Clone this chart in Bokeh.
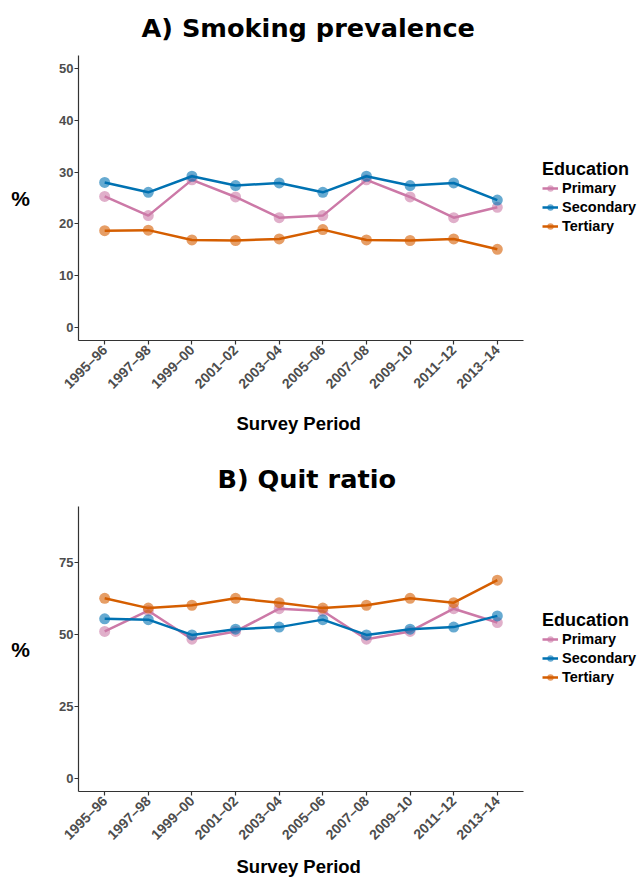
import math
from bokeh.plotting import figure
from bokeh.models import Range1d, FixedTicker, Legend, LegendItem, Title
from bokeh.layouts import column
from bokeh.embed import file_html
from bokeh.resources import INLINE

periods = ["1995–96", "1997–98", "1999–00", "2001–02", "2003–04",
           "2005–06", "2007–08", "2009–10", "2011–12", "2013–14"]
groups = ["Primary", "Secondary", "Tertiary"]
colors = ["#CC79A7", "#0072B2", "#D55E00"]

smoking_primary = [25.3, 21.6, 28.5, 25.2, 21.2, 21.6, 28.5, 25.2, 21.2, 23.2]
smoking_secondary = [28.0, 26.1, 29.2, 27.4, 27.9, 26.1, 29.2, 27.4, 27.9, 24.6]
smoking_tertiary = [18.7, 18.8, 16.9, 16.8, 17.1, 18.9, 16.9, 16.8, 17.1, 15.1]

quit_primary = [51.1, 58.3, 48.4, 51.1, 59.0, 58.2, 48.4, 51.1, 59.0, 54.2]
quit_secondary = [55.5, 55.2, 49.9, 51.9, 52.6, 55.2, 49.9, 51.9, 52.6, 56.5]
quit_tertiary = [62.6, 59.2, 60.2, 62.6, 61.1, 59.2, 60.2, 62.6, 61.1, 68.9]

smoking_ticks = [0, 10, 20, 30, 40, 50]
quit_ticks = [0, 25, 50, 75]

LABEL_FONT = "Liberation Sans"
TITLE_FONT = "DejaVu Sans"

FIG_W = 640
LEFT = 78
PANEL_W = 445      # width of the plotting panel (axis extent) in px
FRAME_H = 285
PAD = 0.6          # discrete-axis expansion on each side

x_idx = list(range(len(periods)))
x_lo = -PAD
x_hi_axis = len(periods) - 1 + PAD
units_per_px = (x_hi_axis - x_lo) / PANEL_W
x_hi_frame = x_lo + (FIG_W - LEFT) * units_per_px


def make_panel(title, series, y_lo, y_hi, ticks, title_offset, title_standoff,
               top, bottom, xlabel_standoff):
    p = figure(
        x_range=Range1d(x_lo, x_hi_frame),
        y_range=Range1d(y_lo, y_hi),
        width=FIG_W, height=top + FRAME_H + bottom,
        min_border_left=LEFT, min_border_right=0,
        min_border_top=top, min_border_bottom=bottom,
        output_backend="svg", toolbar_location=None,
    )
    p.title.text = title
    p.title.align = "left"
    p.title.vertical_align = "top"
    p.title.offset = title_offset
    p.title.text_font = TITLE_FONT
    p.title.text_font_size = "25.6px"
    p.title.text_font_style = "bold"
    p.title.text_color = "#000000"
    p.title.standoff = title_standoff

    p.xgrid.visible = False
    p.ygrid.visible = False
    p.outline_line_color = None
    p.background_fill_color = "white"
    p.border_fill_color = "white"

    for ax in (p.xaxis[0], p.yaxis[0]):
        ax.axis_line_color = "#333333"
        ax.axis_line_width = 1.2
        ax.major_tick_line_color = "#333333"
        ax.major_tick_line_width = 1.2
        ax.major_tick_out = 4
        ax.major_tick_in = 0
        ax.minor_tick_line_color = None
        ax.major_label_text_font = LABEL_FONT
        ax.major_label_text_font_style = "bold"
        ax.major_label_text_font_size = "13px"
        ax.major_label_text_color = "#4D4D4D"
        ax.axis_label_text_font = LABEL_FONT
        ax.axis_label_text_font_style = "bold"
        ax.axis_label_text_color = "#000000"

    p.xaxis.bounds = (x_lo, x_hi_axis)
    p.xaxis.ticker = FixedTicker(ticks=x_idx)
    p.xaxis.major_label_overrides = {i: lab for i, lab in zip(x_idx, periods)}
    p.xaxis.major_label_orientation = math.pi / 4
    p.xaxis.major_label_text_font_size = "14px"
    p.xaxis.major_label_standoff = 3

    # x-axis title centred on the axis extent (not on the wider frame)
    xt = Title(text="Survey Period", align="left", offset=xlabel_standoff[0],
               standoff=xlabel_standoff[1], text_font=LABEL_FONT,
               text_font_size="18.5px", text_font_style="bold",
               text_color="#000000")
    p.add_layout(xt, "below")

    p.yaxis.ticker = FixedTicker(ticks=ticks)
    p.yaxis.major_label_standoff = 1
    p.yaxis.axis_label = "%"
    p.yaxis.axis_label_orientation = "horizontal"
    p.yaxis.axis_label_text_font_size = "21px"
    p.yaxis.axis_label_standoff = 26

    items = []
    for g, c, vals in zip(groups, colors, series):
        lr = p.line(x_idx, vals, line_color=c, line_width=2.5)
        sr = p.scatter(x_idx, vals, size=11, fill_color=c, fill_alpha=0.6,
                       line_color=None)
        items.append(LegendItem(label=g, renderers=[lr, sr]))

    legend = Legend(items=items, title="Education", location=(PANEL_W + 19, 106))
    legend.title_text_font = LABEL_FONT
    legend.title_text_font_size = "18px"
    legend.title_text_font_style = "bold"
    legend.title_text_color = "#000000"
    legend.title_standoff = 0
    legend.label_text_font = LABEL_FONT
    legend.label_text_font_size = "14.5px"
    legend.label_text_font_style = "bold"
    legend.label_text_color = "#000000"
    legend.glyph_width = 16
    legend.glyph_height = 16
    legend.label_height = 16
    legend.label_standoff = 4
    legend.spacing = 3
    legend.padding = 0
    legend.margin = 0
    legend.background_fill_alpha = 0
    legend.border_line_color = None
    p.add_layout(legend, "center")
    return p


pA = make_panel("A) Smoking prevalence",
                [smoking_primary, smoking_secondary, smoking_tertiary],
                -2.5, 52.5, smoking_ticks, 63, 21, 55, 110, (158, 20))
pB = make_panel("B) Quit ratio",
                [quit_primary, quit_secondary, quit_tertiary],
                -4.5, 94.5, quit_ticks, 139, 22, 56, 91, (158, 5))

layout = column(pA, pB, spacing=0)
open("out.html", "w").write(file_html(layout, INLINE))
